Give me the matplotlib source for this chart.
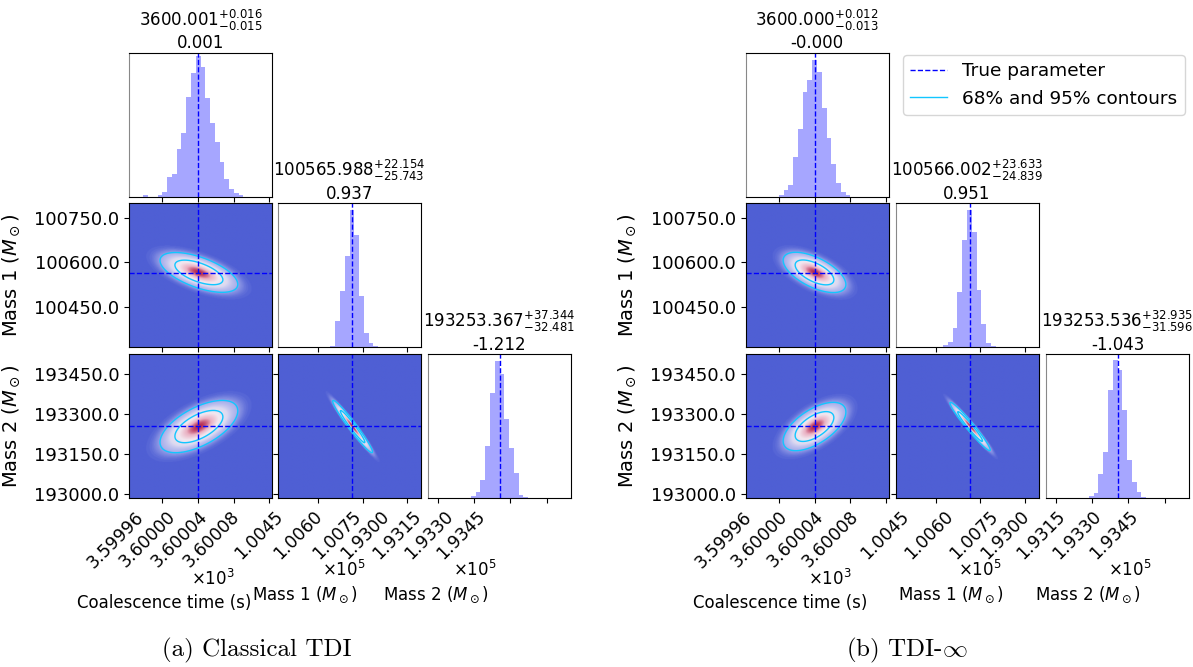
import numpy as np
import matplotlib.pyplot as plt
from matplotlib.colors import LinearSegmentedColormap
from matplotlib.lines import Line2D
from matplotlib.transforms import ScaledTranslation

# ---------------- data ----------------
param_names = ['Coalescence time (s)', r'Mass 1 ($M_\odot$)', r'Mass 2 ($M_\odot$)']
true_values = [3600.0, 100565.0, 193255.0]

x_limits = [(3599.9226, 3600.083), (100314.0, 100797.0), (192958.0, 193551.0)]
y_limits = [None, (100313.5, 100801.0), (192985.0, 193526.0)]

x_ticks = [[3599.96, 3600.00, 3600.04, 3600.08],
           [100450, 100600, 100750],
           [193000, 193150, 193300, 193450]]
x_tick_labels = [['3.59996', '3.60000', '3.60004', '3.60008'],
                 ['1.0045', '1.0060', '1.0075'],
                 ['1.9300', '1.9315', '1.9330', '1.9345']]
x_offset_labels = [r'$\times10^{3}$', r'$\times10^{5}$', r'$\times10^{5}$']
y_ticks = [None, [100450, 100600, 100750], [193000, 193150, 193300, 193450]]
y_tick_labels = [None, ['100450.0', '100600.0', '100750.0'],
                 ['193000.0', '193150.0', '193300.0', '193450.0']]

# (a) Classical TDI
medians_a = [3600.001, 100565.988, 193253.367]
err_plus_a = [0.016, 22.154, 37.344]
err_minus_a = [0.015, 25.743, 32.481]
bias_a = ['0.001', '0.937', '-1.212']
rho_a = {(1, 0): -0.6, (2, 0): 0.6, (2, 1): -0.97}
counts_a = [
    [0, 0, 0, 3, 0, 0, 5, 13, 59, 68, 143, 191, 296, 368, 421, 386, 293, 218,
     163, 103, 51, 23, 11, 3, 0, 0, 0, 0, 0, 0],
    [0, 0, 0, 0, 0, 0, 0, 0, 0, 0, 1, 4, 79, 166, 273, 408, 334, 153, 41, 11,
     2, 0, 0, 0, 0, 0, 0, 0, 0, 0],
    [0, 0, 0, 0, 0, 0, 0, 0, 0, 5, 18, 55, 154, 313, 408, 371, 237, 150, 75,
     10, 4, 0, 0, 0, 0, 0, 0, 0, 0, 0],
]

# (b) TDI-infinity
medians_b = [3600.000, 100566.002, 193253.536]
err_plus_b = [0.012, 23.633, 32.935]
err_minus_b = [0.013, 24.839, 31.596]
bias_b = ['-0.000', '0.951', '-1.043']
rho_b = {(1, 0): -0.6, (2, 0): 0.6, (2, 1): -0.97}
counts_b = [
    [0, 0, 0, 0, 0, 0, 0, 5, 20, 33, 117, 203, 312, 347, 407, 371, 265, 176,
     98, 41, 14, 5, 0, 0, 0, 0, 0, 0, 0, 0],
    [0, 0, 0, 0, 0, 0, 0, 0, 0, 0, 5, 15, 57, 165, 319, 408, 343, 169, 69, 12,
     2, 0, 0, 0, 0, 0, 0, 0, 0, 0],
    [0, 0, 0, 0, 0, 0, 0, 0, 0, 5, 15, 71, 138, 323, 411, 383, 263, 113, 47,
     18, 3, 0, 0, 0, 0, 0, 0, 0, 0, 0],
]
hist_top = 430

captions = ['(a) Classical TDI', r'(b) TDI-$\infty$']
legend_labels = ['True parameter', '68% and 95% contours']

# ---------------- layout (pixels) ----------------
W, H = 1193, 667
AX_W, AX_H = 143, 144
ROW_TOP = [52.5, 203, 354]

HIST_COLOR = 'blue'
TRUE_COLOR = 'blue'
CONTOUR_COLOR = '#12c6ff'
blob_cmap = LinearSegmentedColormap.from_list('blob', [
    (0.0, '#4f5fd4'), (0.02, '#7783df'), (0.06, '#abb1eb'), (0.2, '#dcd9f1'),
    (0.45, '#f2e8f0'), (0.75, '#eab0c2'), (1.0, '#b3284f')])

plt.rcParams['font.size'] = 12

fig = plt.figure(figsize=(W / 100, H / 100), dpi=100)


def rect(x0, top):
    return [x0 / W, 1 - (top + AX_H) / H, AX_W / W, AX_H / H]


def fig_text(x, y, s, **kw):
    return fig.text(x / W, 1 - y / H, s, **kw)


def draw_corner(col_x, medians, errp, errm, bias, rhos, counts,
                shift, offset_pos, xlabel_pos, ylabel_x):
    sig = [1.15 * (p + m) / 2 for p, m in zip(errp, errm)]
    for r in range(3):
        for c in range(r + 1):
            ax = fig.add_axes(rect(col_x[c], ROW_TOP[r]))
            xlo, xhi = x_limits[c]
            if r == c:
                edges = np.linspace(xlo, xhi, 31)
                centers = 0.5 * (edges[1:] + edges[:-1])
                ax.hist(centers, bins=edges, weights=counts[c],
                        color=HIST_COLOR, alpha=0.35)
                ax.axvline(true_values[c], color=TRUE_COLOR, ls='--', lw=1)
                ax.set_ylim(0, hist_top)
                ax.set_yticks([])
                ax.spines['left'].set_color('#888888')
                ax.set_title(f'{medians[c]:.3f}$^{{+{errp[c]:.3f}}}_{{-{errm[c]:.3f}}}$'
                             f'\n{bias[c]}', fontsize=12, pad=3, linespacing=1.1)
            else:
                ylo, yhi = y_limits[r]
                gx = np.linspace(xlo, xhi, 300)
                gy = np.linspace(ylo, yhi, 300)
                X, Y = np.meshgrid(gx, gy)
                u = (X - medians[c]) / sig[c]
                v = (Y - medians[r]) / sig[r]
                rho = rhos[(r, c)]
                dens = np.exp(-(u ** 2 - 2 * rho * u * v + v ** 2) / (2 * (1 - rho ** 2)))
                ax.imshow(dens, extent=(xlo, xhi, ylo, yhi), origin='lower',
                          aspect='auto', cmap=blob_cmap, vmin=0, vmax=1,
                          interpolation='bilinear')
                ax.contour(X, Y, dens, levels=[0.05, 0.32],
                           colors=CONTOUR_COLOR, linewidths=1)
                ax.axvline(true_values[c], color=TRUE_COLOR, ls='--', lw=1)
                ax.axhline(true_values[r], color=TRUE_COLOR, ls='--', lw=1)
                ax.set_ylim(ylo, yhi)
                ax.set_yticks(y_ticks[r])
                if c == 0:
                    ax.set_yticklabels(y_tick_labels[r], fontsize=13)
                    ax.set_ylabel(param_names[r], fontsize=14)
                    ax.yaxis.set_label_coords((ylabel_x - col_x[0]) / AX_W, 0.5)
                else:
                    ax.set_yticklabels([])
            ax.set_xlim(xlo, xhi)
            ax.set_xticks(x_ticks[c])
            if r == 2:
                ax.set_xticklabels(x_tick_labels[c], fontsize=12.5, rotation=45,
                                   ha='right', va='top', rotation_mode='anchor')
                for t, lab in zip(x_ticks[c], ax.get_xticklabels()):
                    px = col_x[c] + (t - xlo) / (xhi - xlo) * AX_W
                    dx = shift[0] * px + shift[1] - px
                    lab.set_transform(lab.get_transform() +
                                      ScaledTranslation(dx / 100, 0, fig.dpi_scale_trans))
                ox, oy = offset_pos[c]
                fig_text(ox, oy, x_offset_labels[c], ha='right', va='center', fontsize=12)
                lx, ly = xlabel_pos[c]
                fig_text(lx, ly, param_names[c], ha='center', va='center', fontsize=12)
            else:
                ax.set_xticklabels([])


draw_corner([129, 278, 428], medians_a, err_plus_a, err_minus_a, bias_a, rho_a,
            counts_a, (0.888, -9),
            [(235, 579), (366, 570), (497, 570)],
            [(164, 603), (305, 595), (436, 595)], 22)

draw_corner([745.5, 895.5, 1046], medians_b, err_plus_b, err_minus_b, bias_b, rho_b,
            counts_b, (1.0, -36),
            [(852, 579), (1002, 570), (1152, 570)],
            [(780, 603), (951, 595), (1088, 595)], 638)

fig_text(257, 650, captions[0], ha='center', va='center', fontsize=18,
         family='cmr10', math_fontfamily='cm')
fig_text(907, 650, captions[1], ha='center', va='center', fontsize=18,
         family='cmr10', math_fontfamily='cm')

handles = [Line2D([], [], color=TRUE_COLOR, ls='--', lw=1),
           Line2D([], [], color=CONTOUR_COLOR, lw=1)]
fig.legend(handles, legend_labels, loc='upper left', fontsize=13.3,
           bbox_to_anchor=(903 / W, 1 - 55 / H), borderaxespad=0)

fig.savefig('out.png', dpi=100)
